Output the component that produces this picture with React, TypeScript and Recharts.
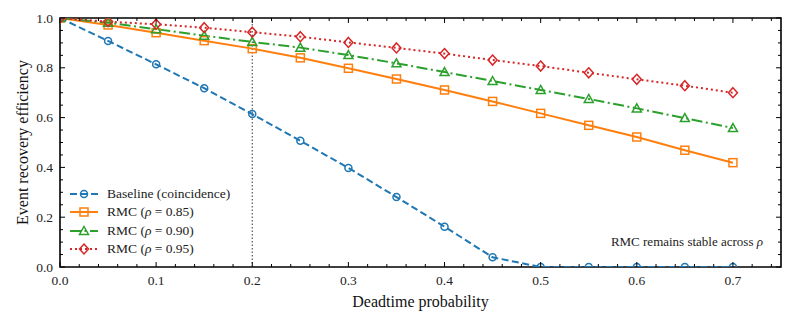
import React from 'react'
import { LineChart, Line, XAxis, YAxis, ReferenceLine, ReferenceArea } from 'recharts'

const xValues = [0, 0.05, 0.1, 0.15, 0.2, 0.25, 0.3, 0.35, 0.4, 0.45, 0.5, 0.55, 0.6, 0.65, 0.7]
const baseline = [1.0, 0.908, 0.814, 0.718, 0.614, 0.507, 0.398, 0.281, 0.162, 0.039, 0, 0, 0, 0, 0]
const rmc085 = [1.0, 0.972, 0.941, 0.909, 0.877, 0.84, 0.798, 0.755, 0.711, 0.665, 0.617, 0.569, 0.522, 0.469, 0.419]
const rmc090 = [1.0, 0.981, 0.955, 0.929, 0.904, 0.881, 0.851, 0.818, 0.783, 0.747, 0.711, 0.675, 0.637, 0.598, 0.558]
const rmc095 = [1.0, 0.985, 0.975, 0.961, 0.943, 0.925, 0.902, 0.88, 0.857, 0.831, 0.807, 0.78, 0.754, 0.728, 0.7]

const xMajorTicks = [0, 0.1, 0.2, 0.3, 0.4, 0.5, 0.6, 0.7]
const yMajorTicks = [0, 0.2, 0.4, 0.6, 0.8, 1.0]
const xAllTicks = Array.from({ length: 38 }, (_, i) => +(i * 0.02).toFixed(2))
const yAllTicks = Array.from({ length: 21 }, (_, i) => +(i * 0.05).toFixed(2))

const W = 794
const H = 324
const X_AXIS_H = 30
const Y_AXIS_W = 40
// plot box: left 60, right 781, top 18, bottom 267
const MARGIN = { top: 18, right: 13, left: 60 - Y_AXIS_W, bottom: 57 - X_AXIS_H }
const PLOT_W = W - 60 - MARGIN.right
const PLOT_H = H - MARGIN.top - 57
const FONT = '"Liberation Serif", "DejaVu Serif", serif'

const data = xValues.map((x, i) => ({
  x,
  baseline: baseline[i],
  rmc085: rmc085[i],
  rmc090: rmc090[i],
  rmc095: rmc095[i],
}))

type Shape = 'circle' | 'square' | 'triangle' | 'diamond'

const SERIES: { key: string; name: React.ReactNode; color: string; dash?: string; shape: Shape }[] = [
  { key: 'baseline', name: 'Baseline (coincidence)', color: '#1f77b4', dash: '7 3.5', shape: 'circle' },
  { key: 'rmc085', name: <>RMC (<i>ρ</i> = 0.85)</>, color: '#ff7f0e', shape: 'square' },
  { key: 'rmc090', name: <>RMC (<i>ρ</i> = 0.90)</>, color: '#2ca02c', dash: '11 3.5 2 3.5', shape: 'triangle' },
  { key: 'rmc095', name: <>RMC (<i>ρ</i> = 0.95)</>, color: '#d62728', dash: '2 3', shape: 'diamond' },
]

function Marker({ cx, cy, color, shape }: { cx: number; cy: number; color: string; shape: Shape }) {
  const common = { fill: 'none', stroke: color, strokeWidth: 1.5 }
  if (shape === 'circle') return <circle cx={cx} cy={cy} r={3.5} {...common} />
  if (shape === 'square') return <rect x={cx - 4} y={cy - 4} width={8} height={8} {...common} />
  if (shape === 'triangle')
    return <polygon points={`${cx},${cy - 4.5} ${cx + 4.5},${cy + 3.5} ${cx - 4.5},${cy + 3.5}`} {...common} />
  return <polygon points={`${cx},${cy - 5} ${cx + 4.5},${cy} ${cx},${cy + 5} ${cx - 4.5},${cy}`} {...common} />
}

const XTick = ({ x, y, payload }: any) => {
  const v = payload.value
  const major = xMajorTicks.some((t) => Math.abs(t - v) < 1e-6)
  const len = major ? 5 : 3
  return (
    <g>
      <line x1={x} x2={x} y1={y} y2={y - len} stroke="#000" strokeWidth={1} />
      <line x1={x} x2={x} y1={y - PLOT_H} y2={y - PLOT_H + len} stroke="#000" strokeWidth={1} />
      {major && (
        <text x={x} y={y + 18} textAnchor="middle" fontFamily={FONT} fontSize={13.5} fill="#222">
          {v.toFixed(1)}
        </text>
      )}
    </g>
  )
}

const YTick = ({ x, y, payload }: any) => {
  const v = payload.value
  const major = yMajorTicks.some((t) => Math.abs(t - v) < 1e-6)
  const len = major ? 5 : 3
  return (
    <g>
      <line x1={x} x2={x + len} y1={y} y2={y} stroke="#000" strokeWidth={1} />
      <line x1={x + PLOT_W} x2={x + PLOT_W - len} y1={y} y2={y} stroke="#000" strokeWidth={1} />
      {major && (
        <text x={x - 7} y={y + 4.5} textAnchor="end" fontFamily={FONT} fontSize={13.5} fill="#222">
          {v.toFixed(1)}
        </text>
      )}
    </g>
  )
}

const LegendBox = () => (
  <div style={{ position: 'absolute', left: 69, top: 185, fontFamily: FONT, fontSize: 13.5, color: '#222' }}>
    {SERIES.map((s) => (
      <div key={s.key} style={{ display: 'flex', alignItems: 'center', height: 18.3 }}>
        <svg width={30} height={14} style={{ marginRight: 8 }}>
          <line x1={1} x2={29} y1={7} y2={7} stroke={s.color} strokeWidth={2} strokeDasharray={s.dash} />
          <Marker cx={15} cy={7} color={s.color} shape={s.shape} />
        </svg>
        <span>{s.name}</span>
      </div>
    ))}
  </div>
)

export default function App() {
  return (
    <div style={{ position: 'absolute', left: 0, top: 0, width: W, height: H, background: '#fff' }}>
      <LineChart width={W} height={H} data={data} margin={MARGIN}>
        <XAxis
          dataKey="x"
          type="number"
          domain={[0, 0.75]}
          ticks={xAllTicks}
          interval={0}
          allowDataOverflow
          height={X_AXIS_H}
          tickSize={0}
          tickMargin={0}
          axisLine={false}
          tick={<XTick />}
          label={{
            content: ({ viewBox }: any) => (
              <text x={viewBox.x + viewBox.width / 2} y={viewBox.y + 40} textAnchor="middle" fontFamily={FONT} fontSize={16} fill="#111">
                Deadtime probability
              </text>
            ),
          }}
        />
        <YAxis
          type="number"
          domain={[0, 1]}
          ticks={yAllTicks}
          interval={0}
          allowDataOverflow
          width={Y_AXIS_W}
          tickSize={0}
          tickMargin={0}
          axisLine={false}
          tick={<YTick />}
          label={{
            content: ({ viewBox }: any) => {
              const cx = 22
              const cy = viewBox.y + viewBox.height / 2
              return (
                <text x={cx} y={cy} transform={`rotate(-90 ${cx} ${cy})`} textAnchor="middle" dominantBaseline="central" fontFamily={FONT} fontSize={16} fill="#111">
                  Event recovery efficiency
                </text>
              )
            },
          }}
        />
        <ReferenceLine x={0.2} stroke="#555" strokeWidth={1.2} strokeDasharray="1.5 2" />
        {SERIES.map((s) => (
          <Line
            key={s.key}
            type="linear"
            dataKey={s.key}
            stroke={s.color}
            strokeWidth={2}
            strokeDasharray={s.dash}
            isAnimationActive={false}
            dot={(p: any) => <Marker key={`${s.key}-${p.index}`} cx={p.cx} cy={p.cy} color={s.color} shape={s.shape} />}
            activeDot={false}
          />
        ))}
        <ReferenceArea
          x1={0}
          x2={0.75}
          y1={0}
          y2={1}
          fill="none"
          stroke="#000"
          strokeWidth={1.6}
          label={{
            content: ({ viewBox }: any) => (
              <text x={viewBox.x + viewBox.width - 18} y={viewBox.y + viewBox.height - 21} textAnchor="end" fontFamily={FONT} fontSize={13} fill="#222">
                RMC remains stable across <tspan fontStyle="italic">ρ</tspan>
              </text>
            ),
          }}
        />
      </LineChart>
      <LegendBox />
    </div>
  )
}
